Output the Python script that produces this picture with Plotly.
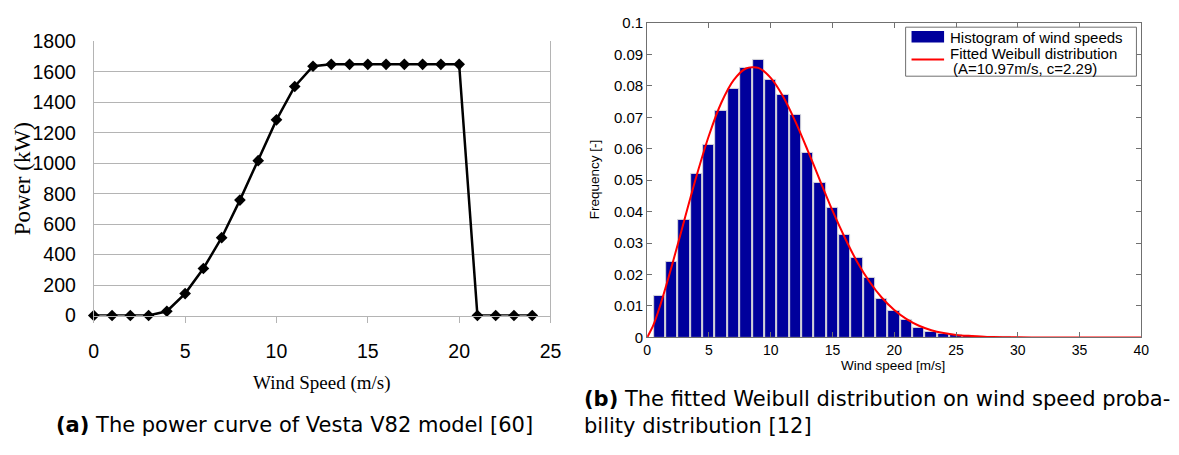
import plotly.graph_objects as go

# ---------------- data ----------------
# (a) Vestas V82 power curve
wind_speed = list(range(0, 25))
power_kw = [0, 0, 0, 0, 28, 144, 309, 511, 758, 1017, 1285, 1504, 1637,
            1650, 1650, 1650, 1650, 1650, 1650, 1650, 1650, 0, 0, 0, 0]

# (b) histogram of wind speeds
bin_centers = list(range(1, 31))
bin_freq = [0.0133, 0.0239, 0.0374, 0.0520, 0.0611, 0.0719, 0.0790, 0.0856,
            0.0881, 0.0818, 0.0771, 0.0708, 0.0588, 0.0490, 0.0411, 0.0326,
            0.0254, 0.0189, 0.0121, 0.0083, 0.0055, 0.0029, 0.0018, 0.0012,
            0.0007, 0.0004, 0.0002, 0.0001, 0.0001, 0.0000]

# fitted Weibull curve
curve_x = [0, 0.5, 1, 2, 3, 4, 5, 6, 7, 8, 9, 10, 11, 12, 13, 14, 15, 16, 17,
           18, 19, 20, 21, 22, 23, 24, 25, 26, 27, 28, 29, 30, 32, 35, 40]
curve_y = [0.0, 0.0039, 0.0095, 0.0228, 0.0372, 0.0514, 0.0642, 0.0746,
           0.0818, 0.0855, 0.0857, 0.0825, 0.0766, 0.0686, 0.0594, 0.0498,
           0.0403, 0.0317, 0.0240, 0.0177, 0.0126, 0.0087, 0.0058, 0.0037,
           0.0023, 0.0014, 0.0008, 0.0005, 0.0003, 0.0001, 0.00005, 0.00002,
           0.0, 0.0, 0.0]

left_xticks = [0, 5, 10, 15, 20, 25]
left_yticks = list(range(0, 1801, 200))
right_xticks = list(range(0, 41, 5))

W, H = 1179, 455


def px(x):
    return x / W


def py(y):
    return 1 - y / H


NARROW = "Liberation Sans Narrow, Arial Narrow, Liberation Sans, Arial"
SERIF = "Liberation Serif, Times New Roman, DejaVu Serif, serif"
SANS = "Liberation Sans, Arial, Helvetica, sans-serif"
CAP = "DejaVu Sans, Noto Sans, sans-serif"

fig = go.Figure()

fig.add_trace(go.Scatter(
    x=wind_speed, y=power_kw, mode="lines+markers",
    line=dict(color="black", width=2.5),
    marker=dict(symbol="diamond", size=9, color="black"),
    xaxis="x", yaxis="y", cliponaxis=False, showlegend=False))

fig.add_trace(go.Bar(
    x=bin_centers, y=bin_freq, width=0.92,
    marker=dict(color="#00009c", line=dict(color="#d8d8d8", width=1)),
    xaxis="x2", yaxis="y2", showlegend=False))

fig.add_trace(go.Scatter(
    x=curve_x, y=curve_y, mode="lines",
    line=dict(color="#ff0000", width=2, shape="spline", smoothing=0.8),
    xaxis="x2", yaxis="y2", showlegend=False))

grey = "#b4b4b4"
fig.update_layout(
    width=W, height=H,
    margin=dict(l=0, r=0, t=0, b=0),
    paper_bgcolor="white", plot_bgcolor="white",
    showlegend=False, bargap=0,
    xaxis=dict(domain=[px(90), px(553)], range=[0, 25], anchor="y",
               tickvals=left_xticks, ticks="outside", ticklen=6,
               tickcolor=grey, showline=True, linecolor=grey, linewidth=1,
               showgrid=False, zeroline=False, ticklabelstandoff=12,
               tickfont=dict(family=NARROW, size=19.5, color="black")),
    yaxis=dict(domain=[py(320), py(32)], range=[0, 1800], anchor="x",
               tickvals=left_yticks, ticks="", showline=True, mirror=True,
               linecolor=grey, linewidth=1, showgrid=True, gridcolor=grey,
               gridwidth=1, zeroline=False, ticklabelstandoff=13,
               tickfont=dict(family=NARROW, size=19.5, color="black")),
    xaxis2=dict(domain=[px(651), px(1152)], range=[0, 40], anchor="y2",
                tickvals=right_xticks, ticks="inside", ticklen=5,
                tickcolor="#707070", showline=True, mirror="allticks",
                linecolor="#707070", linewidth=1, showgrid=False,
                zeroline=False, ticklabelstandoff=0,
                tickfont=dict(family=SANS, size=14, color="black")),
    yaxis2=dict(domain=[py(343), py(12.5)], range=[0, 0.1], anchor="x2",
                tick0=0, dtick=0.01, ticks="inside", ticklen=5,
                tickcolor="#707070", showline=True, mirror="allticks",
                linecolor="#707070", linewidth=1, showgrid=False,
                zeroline=False,
                tickfont=dict(family=SANS, size=15, color="black")),
)

ann = []
ann.append(dict(text="Power (kW)", x=px(18), y=py(176), textangle=-90,
                font=dict(family=SERIF, size=23, color="black")))
ann.append(dict(text="Wind Speed (m/s)", x=px(321), y=py(391),
                font=dict(family=SERIF, size=19, color="black")))
ann.append(dict(text="Frequency [-]", x=px(598), y=py(177), textangle=-90,
                font=dict(family=SANS, size=13.5, color="black")))
ann.append(dict(text="Wind speed [m/s]", x=px(900), y=py(372.5),
                font=dict(family=SANS, size=13.5, color="black")))
ann.append(dict(text="<b>(a)</b> The power curve of Vesta V82 model [60]",
                x=px(50), y=py(435), xanchor="left",
                font=dict(family=CAP, size=21, color="black")))
ann.append(dict(text="<b>(b)</b> The fitted Weibull distribution on wind speed proba-",
                x=px(585), y=py(408), xanchor="left",
                font=dict(family=CAP, size=21, color="black")))
ann.append(dict(text="bility distribution [12]",
                x=px(585), y=py(436.5), xanchor="left",
                font=dict(family=CAP, size=21, color="black")))
# legend texts
ann.append(dict(text="Histogram of wind speeds", x=px(956), y=py(27.5),
                xanchor="left", font=dict(family=SANS, size=15, color="black")))
ann.append(dict(text="Fitted Weibull distribution", x=px(956), y=py(44.5),
                xanchor="left", font=dict(family=SANS, size=15, color="black")))
ann.append(dict(text="(A=10.97m/s, c=2.29)", x=px(959), y=py(60),
                xanchor="left", font=dict(family=SANS, size=15, color="black")))
for a in ann:
    a.setdefault("xanchor", "center")
    a.setdefault("yanchor", "middle")
    a.update(xref="paper", yref="paper", showarrow=False)
fig.update_layout(annotations=ann)

shapes = [
    dict(type="rect", xref="paper", yref="paper",
         x0=px(913), x1=px(1147), y0=py(68.5), y1=py(17),
         line=dict(color="#707070", width=1), fillcolor="white", layer="above"),
    dict(type="rect", xref="paper", yref="paper",
         x0=px(919), x1=px(952), y0=py(33), y1=py(21),
         line=dict(color="#00009c", width=0), fillcolor="#00009c", layer="above"),
    dict(type="line", xref="paper", yref="paper",
         x0=px(919), x1=px(952), y0=py(51), y1=py(51),
         line=dict(color="#ff0000", width=2), layer="above"),
]
fig.update_layout(shapes=shapes)

fig.write_html("out.html")
